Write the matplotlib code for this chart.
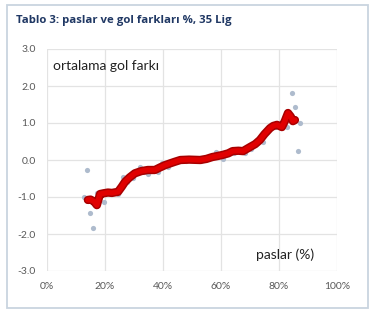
import matplotlib
matplotlib.use("Agg")
import matplotlib.pyplot as plt
from matplotlib.patches import Rectangle

# Moving-average curve (passes %, average goal difference)
curve_x = [14.1, 15.0, 16.2, 17.2, 17.8, 18.3, 19.5, 21.0, 22.4, 24.5, 25.8, 26.9, 28.5,
           30.3, 32.5, 34.8, 37.2, 39.0, 40.7, 42.5, 44.0, 46.0, 49.0, 52.8, 55.0, 57.0,
           59.0, 60.7, 62.5, 64.0, 66.0, 67.6, 70.0, 71.8, 73.4, 75.0, 76.9, 78.0, 79.3,
           81.0, 82.0, 83.1, 84.0, 84.8, 85.5]
curve_y = [-1.08, -1.07, -1.12, -1.22, -1.05, -0.92, -0.90, -0.88, -0.89, -0.86, -0.72, -0.59, -0.47,
           -0.36, -0.30, -0.27, -0.27, -0.20, -0.14, -0.09, -0.05, 0.00, 0.01, 0.00, 0.03, 0.08,
           0.11, 0.14, 0.18, 0.24, 0.25, 0.24, 0.35, 0.43, 0.54, 0.70, 0.86, 0.92, 0.95,
           0.89, 1.05, 1.27, 1.18, 1.05, 1.08]

# Individual observations
pts_x = [12.8, 13.8, 14.8, 15.9, 17.2, 18.5, 19.7, 21.5, 23.0, 24.5, 26.2, 27.5, 29.7, 32.0,
         33.5, 34.9, 36.5, 38.2, 39.5, 41.8, 43.5, 45.5, 48.0, 50.5, 53.0, 55.5, 58.3, 60.7,
         62.0, 64.5, 66.5, 68.3, 70.5, 72.5, 74.5, 76.0, 78.5, 80.5, 82.8, 84.5, 85.5, 86.6, 87.2]
pts_y = [-1.00, -0.27, -1.43, -1.84, -0.89, -0.95, -1.14, -0.85, -0.90, -0.92, -0.46, -0.60, -0.49, -0.19,
         -0.33, -0.38, -0.25, -0.32, -0.08, -0.19, -0.02, 0.03, -0.03, 0.02, -0.04, 0.06, 0.22, 0.03,
         0.15, 0.20, 0.30, 0.19, 0.30, 0.45, 0.49, 0.75, 0.90, 0.95, 0.89, 1.81, 1.43, 0.24, 1.00]

x_ticks = [0, 20, 40, 60, 80, 100]
x_labels = ["0%", "20%", "40%", "60%", "80%", "100%"]
y_ticks = [-3, -2, -1, 0, 1, 2, 3]
y_labels = ["-3.0", "-2.0", "-1.0", "0.0", "1.0", "2.0", "3.0"]

plt.rcParams['font.family'] = ['Lato', 'DejaVu Sans']

W, H = 380, 318
fig = plt.figure(figsize=(W / 100, H / 100), dpi=100)
fig.patch.set_facecolor("white")

# outer frame
fig.patches.append(Rectangle((7 / W, 1 - 308 / H), 361 / W, 303 / H, transform=fig.transFigure,
                             fill=False, edgecolor="#c9d4df", linewidth=1.3))

fig.text(16 / W, 1 - 20 / H, "Tablo 3: paslar ve gol farkları %, 35 Lig", fontsize=8.2,
         fontweight="bold", color="#203864", va="center", ha="left",
         family=["Open Sans", "DejaVu Sans"])

ax = fig.add_axes([47 / W, 1 - 271 / H, 290 / W, 222 / H])
ax.set_xlim(0, 100)
ax.set_ylim(-3, 3)
ax.set_xticks(x_ticks)
ax.set_xticklabels(x_labels)
ax.set_yticks(y_ticks)
ax.set_yticklabels(y_labels)
for s in ax.spines.values():
    s.set_visible(False)
ax.grid(True, color="#e3e3e3", linewidth=0.9)
ax.set_axisbelow(True)
ax.tick_params(length=0, labelsize=7.5, labelcolor="#595959", pad=8)

ax.scatter(pts_x, pts_y, s=14, color="#aebbcd", zorder=2, linewidths=0)
ax.plot(curve_x, curve_y, color="#a80000", linewidth=6, solid_capstyle="round",
        solid_joinstyle="round", zorder=3)
ax.plot(curve_x, curve_y, color="#e00000", linewidth=3.8, solid_capstyle="round",
        solid_joinstyle="round", zorder=4)

ax.text(2, 2.55, "ortalama gol farkı", fontsize=10, color="#222222", va="center", ha="left")
ax.text(72, -2.57, "paslar (%)", fontsize=10, color="#222222", va="center", ha="left")

fig.savefig("out.png", dpi=100)
